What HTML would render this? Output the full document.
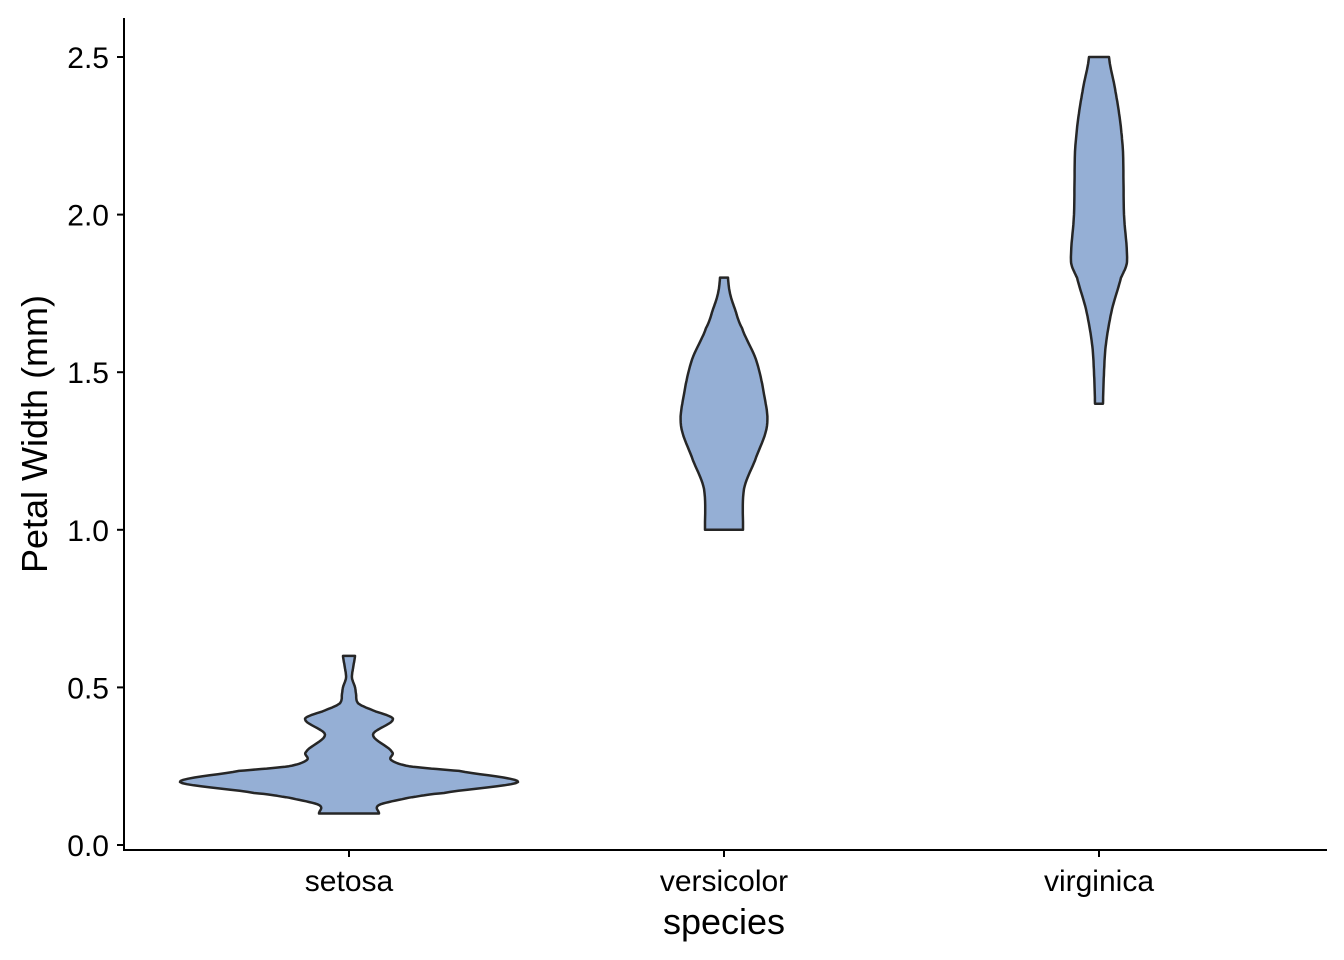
<!DOCTYPE html>
<html><head><meta charset="utf-8"><style>
body{margin:0;background:#fff;}
svg{display:block;font-family:"Liberation Sans",Arial,sans-serif;}
</style></head><body>
<svg id="chart" width="1344" height="960"></svg>
<script>
const categories = ["setosa","versicolor","virginica"];
const yTicks = [0.0,0.5,1.0,1.5,2.0,2.5];
const setosaVals = [0.1,0.127,0.15,0.165,0.2,0.235,0.25,0.27,0.295,0.35,0.4,0.43,0.45,0.48,0.5,0.53,0.56,0.6];
const setosaDens = [30,30,60,95,169,110,60,42,43,24,44,22,9,7,6,3,4,6];
const versiVals = [1.0,1.13,1.22,1.33,1.43,1.54,1.64,1.7,1.75,1.8];
const versiDens = [19,20,31,43,40,32,18,11,6,4];
const virgVals = [1.4,1.5,1.59,1.7,1.8,1.85,2.0,2.2,2.3,2.4,2.5];
const virgDens = [4,5,7,13,22,28,25,24,21,16,10];

const NS="http://www.w3.org/2000/svg";
const svg=document.getElementById('chart');
const yS=v=>845-v*315.2;
const xS=i=>349+i*375;
function mk(t,a){const e=document.createElementNS(NS,t);for(const k in a)e.setAttribute(k,a[k]);svg.appendChild(e);return e;}

function violin(i,vals,dens,name){
  const cx=xS(i);
  const pts=[];
  for(let j=0;j<vals.length;j++)pts.push([vals[j],dens[j]]);
  const samp=[];
  for(let j=0;j<pts.length-1;j++){
    const p0=pts[Math.max(0,j-1)],p1=pts[j],p2=pts[j+1],p3=pts[Math.min(pts.length-1,j+2)];
    for(let t=0;t<1;t+=0.1){
      const t2=t*t,t3=t2*t;
      const f=(a,b,c,d)=>0.5*((2*b)+(-a+c)*t+(2*a-5*b+4*c-d)*t2+(-a+3*b-3*c+d)*t3);
      samp.push([p1[0]+(p2[0]-p1[0])*t, Math.max(1,f(p0[1],p1[1],p2[1],p3[1]))]);
    }
  }
  samp.push(pts[pts.length-1]);
  let d='M'+samp.map(p=>(cx-p[1]).toFixed(1)+','+yS(p[0]).toFixed(1)).join(' L');
  d+=' L'+samp.slice().reverse().map(p=>(cx+p[1]).toFixed(1)+','+yS(p[0]).toFixed(1)).join(' L')+' Z';
  const p=mk('path',{d:d,fill:'#95afd5',stroke:'#262626','stroke-width':2.5,'stroke-linejoin':'round'});
  
  
}
violin(0,setosaVals,setosaDens,'violin-setosa');
violin(1,versiVals,versiDens,'violin-versicolor');
violin(2,virgVals,virgDens,'violin-virginica');

let a=mk('line',{x1:124,y1:18,x2:124,y2:851,stroke:'#000','stroke-width':2});

a=mk('line',{x1:123,y1:850,x2:1327,y2:850,stroke:'#000','stroke-width':2});


yTicks.forEach(v=>{
  const y=yS(v);
  const l=mk('line',{x1:117,y1:y,x2:124,y2:y,stroke:'#000','stroke-width':2});
  
  const t=mk('text',{x:109,y:y+11,'text-anchor':'end','font-size':30,fill:'#000'});
  t.textContent=v.toFixed(1);
  
});
categories.forEach((c,i)=>{
  const x=xS(i);
  const l=mk('line',{x1:x,y1:850,x2:x,y2:857,stroke:'#000','stroke-width':2});
  
  const t=mk('text',{x:x,y:891,'text-anchor':'middle','font-size':30,fill:'#000'});
  t.textContent=c;
  
});
let t=mk('text',{x:724,y:934,'text-anchor':'middle','font-size':36,fill:'#000'});
t.textContent='species';
t=mk('text',{x:0,y:0,'text-anchor':'middle','font-size':36,fill:'#000',transform:'translate(47,434) rotate(-90)'});
t.textContent='Petal Width (mm)';
</script>
</body></html>
